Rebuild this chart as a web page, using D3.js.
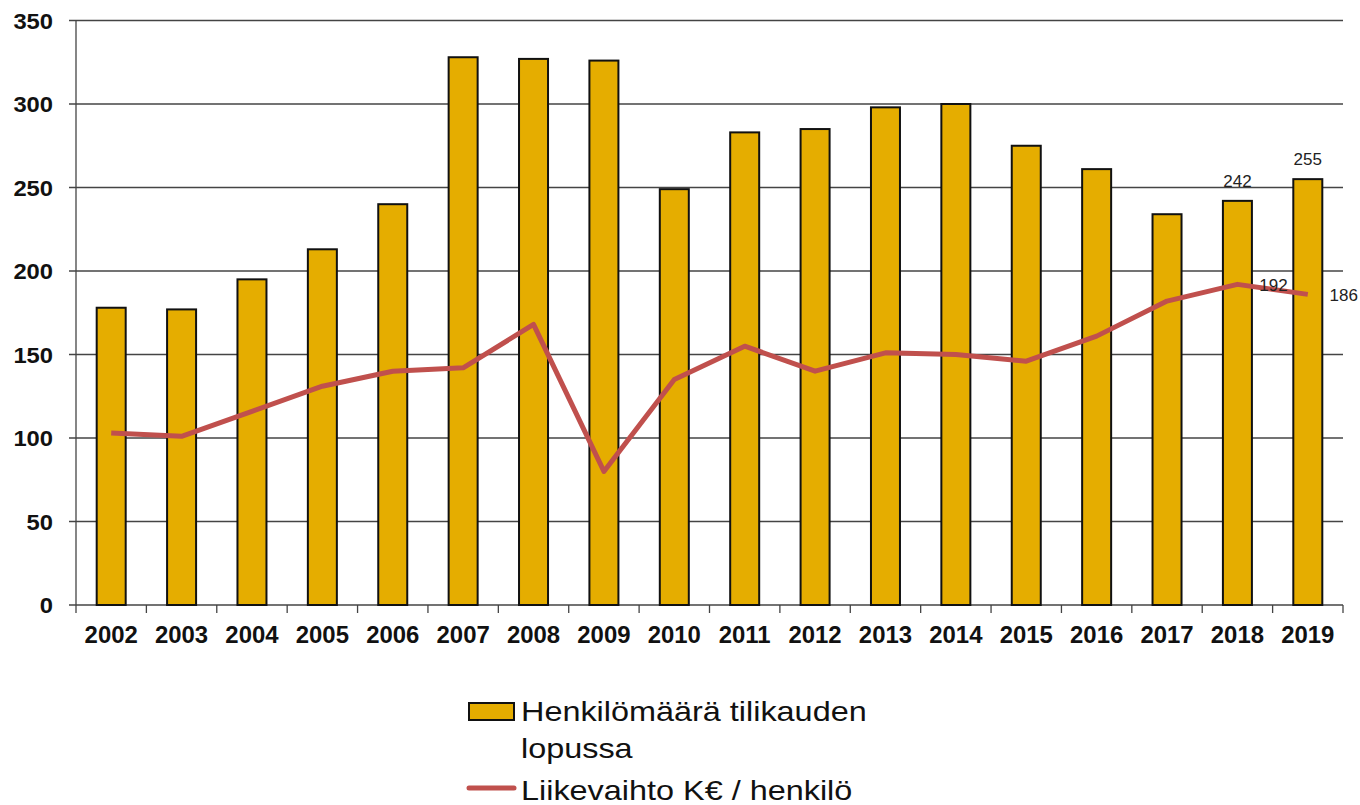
<!DOCTYPE html>
<html>
<head>
<meta charset="utf-8">
<script src="https://cdn.jsdelivr.net/npm/d3@7"></script>
<style>
  body { margin: 0; background: #fff; }
  svg { display: block; font-family: "Liberation Sans", Arial, sans-serif; }
</style>
</head>
<body>
<svg id="chart" width="1360" height="805"></svg>
<script>
var years = ['2002','2003','2004','2005','2006','2007','2008','2009','2010','2011','2012','2013','2014','2015','2016','2017','2018','2019'];
var henkilot = [178, 177, 195, 213, 240, 328, 327, 326, 249, 283, 285, 298, 300, 275, 261, 234, 242, 255];
var liikevaihto = [103, 101, 116, 131, 140, 142, 168, 80, 135, 155, 140, 151, 150, 146, 161, 182, 192, 186];
var yTicks = [0, 50, 100, 150, 200, 250, 300, 350];
var barLabelYears = ['2018', '2019'];
var lineLabelYears = ['2018', '2019'];

var barColor = '#e5ad00', lineColor = '#c0504d', gridColor = '#444';

var svg = d3.select('#chart');
var x = d3.scaleBand().domain(years).range([76, 1343]);
var y = d3.scaleLinear().domain([0, 350]).range([605, 20.5]);

// gridlines + y ticks
svg.append('g')
  .selectAll('line')
  .data(yTicks)
  .join('line')
  .attr('x1', 69).attr('x2', 1343)
  .attr('y1', d => y(d)).attr('y2', d => y(d))
  .attr('stroke', gridColor).attr('stroke-width', 1.3);

svg.append('g')
  .selectAll('text')
  .data(yTicks)
  .join('text')
  .attr('transform', d => `translate(53,${y(d) + 8}) scale(1.08,1)`)
  .attr('text-anchor', 'end')
  .style('font-size', '22px').style('font-weight', 'bold')
  .attr('fill', '#111')
  .text(d => d);

// y axis line
svg.append('line')
  .attr('x1', 76).attr('x2', 76).attr('y1', y(350)).attr('y2', y(0))
  .attr('stroke', gridColor).attr('stroke-width', 1.3);

// x tick marks at band boundaries
svg.append('g')
  .selectAll('line')
  .data(years.concat(['end']))
  .join('line')
  .attr('x1', (d, i) => 76 + i * x.step()).attr('x2', (d, i) => 76 + i * x.step())
  .attr('y1', y(0)).attr('y2', y(0) + 8)
  .attr('stroke', gridColor).attr('stroke-width', 1.3);

svg.append('g')
  .selectAll('text')
  .data(years)
  .join('text')
  .attr('transform', d => `translate(${x(d) + x.bandwidth() / 2},643) scale(1.04,1)`)
  .attr('text-anchor', 'middle')
  .style('font-size', '23px').style('font-weight', 'bold')
  .attr('fill', '#111')
  .text(d => d);

// bars
var bw = 29;
svg.append('g')
  .selectAll('rect')
  .data(years)
  .join('rect')
  .attr('x', d => x(d) + x.bandwidth() / 2 - bw / 2)
  .attr('y', (d, i) => y(henkilot[i]))
  .attr('width', bw)
  .attr('height', (d, i) => y(0) - y(henkilot[i]))
  .attr('fill', barColor)
  .attr('stroke', '#111').attr('stroke-width', 2);

// line
var line = d3.line()
  .x((d, i) => x(years[i]) + x.bandwidth() / 2)
  .y(d => y(d));
svg.append('path')
  .datum(liikevaihto)
  .attr('d', line)
  .attr('fill', 'none')
  .attr('stroke', lineColor)
  .attr('stroke-width', 5)
  .attr('stroke-linejoin', 'round');

// data labels
svg.append('g')
  .selectAll('text')
  .data(barLabelYears)
  .join('text')
  .attr('x', d => x(d) + x.bandwidth() / 2)
  .attr('y', d => y(henkilot[years.indexOf(d)]) - 14)
  .attr('text-anchor', 'middle')
  .style('font-size', '17px')
  .attr('fill', '#222')
  .text(d => henkilot[years.indexOf(d)]);

svg.append('g')
  .selectAll('text')
  .data(lineLabelYears)
  .join('text')
  .attr('x', d => x(d) + x.bandwidth() / 2 + 36)
  .attr('y', d => y(liikevaihto[years.indexOf(d)]) + 7)
  .attr('text-anchor', 'middle')
  .style('font-size', '17px')
  .attr('fill', '#222')
  .text(d => liikevaihto[years.indexOf(d)]);

// legend
var lg = svg.append('g');
lg.append('rect')
  .attr('x', 469).attr('y', 703).attr('width', 45).attr('height', 17)
  .attr('fill', barColor).attr('stroke', '#111').attr('stroke-width', 2);
lg.append('text').attr('transform', 'translate(521,721) scale(1.2,1)')
  .style('font-size', '27px').attr('fill', '#111').text('Henkilömäärä tilikauden');
lg.append('text').attr('transform', 'translate(521,758) scale(1.2,1)')
  .style('font-size', '27px').attr('fill', '#111').text('lopussa');
lg.append('line')
  .attr('x1', 469).attr('x2', 514).attr('y1', 788).attr('y2', 788)
  .attr('stroke', lineColor).attr('stroke-width', 5).attr('stroke-linecap', 'round');
lg.append('text').attr('transform', 'translate(521,800) scale(1.2,1)')
  .style('font-size', '27px').attr('fill', '#111').text('Liikevaihto K€ / henkilö');
</script>
</body>
</html>
